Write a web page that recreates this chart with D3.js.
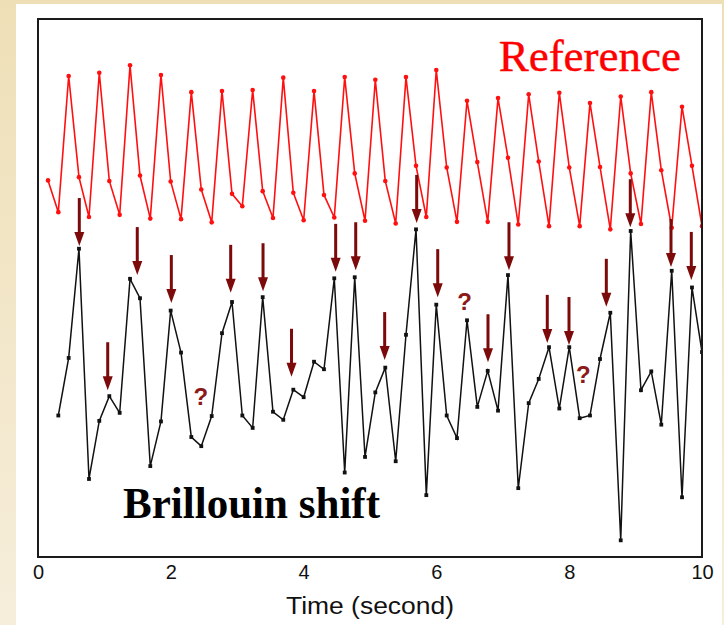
<!DOCTYPE html>
<html>
<head>
<meta charset="utf-8">
<script src="https://cdn.jsdelivr.net/npm/d3@7"></script>
<style>
  html, body { margin: 0; padding: 0; background: #f3e8c9; }
  svg { display: block; }
</style>
</head>
<body>
<script>
// Sampling instants (s), shared by both traces
const times = [0.151, 0.306, 0.462, 0.617, 0.768, 0.923, 1.074, 1.230, 1.386, 1.536,
  1.691, 1.852, 1.998, 2.154, 2.309, 2.459, 2.616, 2.771, 2.922, 3.077,
  3.233, 3.384, 3.539, 3.694, 3.845, 4.001, 4.157, 4.307, 4.462, 4.619,
  4.770, 4.925, 5.080, 5.230, 5.387, 5.542, 5.693, 5.848, 5.998, 6.155,
  6.310, 6.461, 6.616, 6.773, 6.928, 7.078, 7.233, 7.390, 7.541, 7.696,
  7.851, 8.001, 8.158, 8.313, 8.464, 8.619, 8.776, 8.926, 9.081, 9.236,
  9.387, 9.544, 9.699, 9.849, 10.0];

// Reference signal (arbitrary units)
const referenceValues = [70.0, 64.1, 89.4, 70.6, 63.2, 90.0, 69.9, 63.6, 91.4, 70.9,
  62.9, 89.6, 69.8, 62.8, 86.4, 68.3, 62.2, 86.6, 67.5, 65.2,
  86.8, 68.0, 63.0, 89.1, 67.7, 62.6, 86.6, 67.3, 63.1, 89.2,
  71.3, 62.5, 88.7, 69.9, 62.0, 89.2, 72.7, 63.2, 90.5, 72.4,
  62.3, 84.8, 73.4, 62.3, 85.3, 74.2, 61.8, 86.0, 73.5, 61.5,
  86.3, 72.4, 61.5, 84.4, 72.5, 60.9, 85.6, 71.3, 61.9, 86.4,
  71.9, 61.2, 83.7, 72.7, 61.5];

// Brillouin shift trace (arbitrary units), starts at the second sample
const brillouinValues = [26.3, 37.0, 57.3, 14.5, 25.3, 29.9, 26.8, 51.7, 48.1,
  16.9, 25.2, 45.8, 38.0, 22.3, 20.6, 26.2, 41.6, 47.4, 26.3,
  24.0, 48.3, 27.0, 25.5, 31.1, 29.7, 36.3, 34.9, 51.8, 15.7,
  52.0, 18.6, 30.6, 35.2, 17.8, 41.3, 60.9, 11.5, 46.9, 26.3,
  22.1, 44.0, 27.9, 34.6, 27.2, 52.4, 12.8, 28.6, 33.1, 39.0,
  27.6, 39.0, 25.8, 26.3, 36.8, 45.4, 3.1, 60.6, 31.0, 34.5,
  24.6, 53.2, 11.1, 50.1, 38.1];

// Peak markers: time (s) and value at the arrow tip
const arrowTimes = [0.622, 1.050, 1.495, 2.008, 2.902, 3.389, 3.818, 4.483, 4.785, 5.221,
  5.703, 6.020, 6.777, 7.093, 7.670, 7.997, 8.559, 8.920, 9.533, 9.839];
const arrowTips = [57.8, 31.0, 52.4, 47.2, 49.1, 49.4, 33.5, 53.0, 53.3, 36.6,
  62.1, 48.3, 36.2, 53.3, 39.8, 39.4, 46.5, 61.3, 53.9, 51.5];

// Uncertain peaks, marked with "?"
const queryTimes = [2.451, 6.426, 8.212];
const queryValues = [28.3, 45.9, 32.3];

// x-axis ticks
const tickValues = [0, 2, 4, 6, 8, 10];

const W = 724, H = 625;
const plot = { left: 38, right: 702, top: 19, bottom: 557 };

const svg = d3.select("body").append("svg")
  .attr("width", W).attr("height", H);

// backdrop: cream frame with a white panel
const defs = svg.append("defs");
const grad = defs.append("linearGradient").attr("id", "edge")
  .attr("x1", 0).attr("y1", 0).attr("x2", 0).attr("y2", 1);
grad.append("stop").attr("offset", "0%").attr("stop-color", "#eedfb6");
grad.append("stop").attr("offset", "100%").attr("stop-color", "#f6eedb");
svg.append("rect").attr("width", W).attr("height", H).attr("fill", "url(#edge)");
svg.append("rect").attr("x", 16).attr("y", 4).attr("width", 706).attr("height", H - 4)
  .attr("fill", "#ffffff");

const x = d3.scaleLinear().domain([0, 10]).range([plot.left, plot.right]);
const y = d3.scaleLinear().domain([0, 100]).range([plot.bottom, plot.top]);

defs.append("clipPath").attr("id", "plotClip").append("rect")
  .attr("x", plot.left).attr("y", plot.top)
  .attr("width", plot.right - plot.left).attr("height", plot.bottom - plot.top);

const g = svg.append("g").attr("clip-path", "url(#plotClip)");

// Reference trace
const refData = times.map((t, i) => ({ t, v: referenceValues[i] }));
const line = d3.line().x(d => x(d.t)).y(d => y(d.v));
g.append("path").datum(refData)
  .attr("fill", "none").attr("stroke", "#ff1010").attr("stroke-width", 1.6)
  .attr("d", line);
g.selectAll("circle.ref").data(refData).join("circle")
  .attr("class", "ref")
  .attr("cx", d => x(d.t)).attr("cy", d => y(d.v)).attr("r", 2.3)
  .attr("fill", "#ff1010");

// Brillouin trace
const briTimes = times.slice(1);
const briData = briTimes.map((t, i) => ({ t, v: brillouinValues[i] }));
g.append("path").datum(briData)
  .attr("fill", "none").attr("stroke", "#111").attr("stroke-width", 1.5)
  .attr("d", line);
g.selectAll("rect.bri").data(briData).join("rect")
  .attr("class", "bri")
  .attr("x", d => x(d.t) - 1.9).attr("y", d => y(d.v) - 1.9)
  .attr("width", 3.8).attr("height", 3.8)
  .attr("fill", "#111");

// Peak arrows
const arrowColor = "#7d0a0a";
const arrows = g.selectAll("g.arrow").data(arrowTimes.map((t, i) => ({ t, v: arrowTips[i] })))
  .join("g").attr("class", "arrow")
  .attr("transform", d => `translate(${x(d.t)},${y(d.v)})`);
arrows.append("rect")
  .attr("x", -1.5).attr("y", -48).attr("width", 3).attr("height", 36)
  .attr("fill", arrowColor);
arrows.append("path")
  .attr("d", "M-5,-14 L5,-14 L0,0 Z")
  .attr("fill", arrowColor);

// Question marks
g.selectAll("text.query").data(queryTimes.map((t, i) => ({ t, v: queryValues[i] })))
  .join("text").attr("class", "query")
  .attr("x", d => x(d.t)).attr("y", d => y(d.v))
  .attr("text-anchor", "middle")
  .attr("font-family", "Liberation Sans, Arial, sans-serif")
  .attr("font-weight", "bold").attr("font-size", 24)
  .attr("fill", "#8b1a1a")
  .text("?");

// Trace labels
svg.append("text")
  .attr("x", 681).attr("y", 71).attr("text-anchor", "end")
  .attr("font-family", "Liberation Serif, Times New Roman, serif")
  .attr("font-size", 45).attr("fill", "#ff0000")
  .attr("stroke", "#ff0000").attr("stroke-width", 0.4)
  .text("Reference");
svg.append("text")
  .attr("x", 123).attr("y", 518)
  .attr("font-family", "Liberation Serif, Times New Roman, serif")
  .attr("font-weight", "bold").attr("font-size", 44).attr("fill", "#000")
  .attr("textLength", 257).attr("lengthAdjust", "spacingAndGlyphs")
  .text("Brillouin shift");

// Frame
svg.append("rect")
  .attr("x", plot.left).attr("y", plot.top)
  .attr("width", plot.right - plot.left).attr("height", plot.bottom - plot.top)
  .attr("fill", "none").attr("stroke", "#1a1a1a").attr("stroke-width", 2);

// x axis
const xAxis = svg.append("g")
  .attr("transform", `translate(0,${plot.bottom})`)
  .call(d3.axisBottom(x).tickValues(tickValues).tickSize(0).tickPadding(8).tickFormat(d3.format("d")));
xAxis.select(".domain").remove();
xAxis.selectAll("text")
  .attr("font-family", "Liberation Sans, Arial, sans-serif")
  .attr("font-size", 20).attr("fill", "#111");

svg.append("text")
  .attr("x", 370).attr("y", 614).attr("text-anchor", "middle")
  .attr("font-family", "Liberation Sans, Arial, sans-serif")
  .attr("font-size", 23).attr("fill", "#111")
  .attr("textLength", 168).attr("lengthAdjust", "spacingAndGlyphs")
  .text("Time (second)");
</script>
</body>
</html>
